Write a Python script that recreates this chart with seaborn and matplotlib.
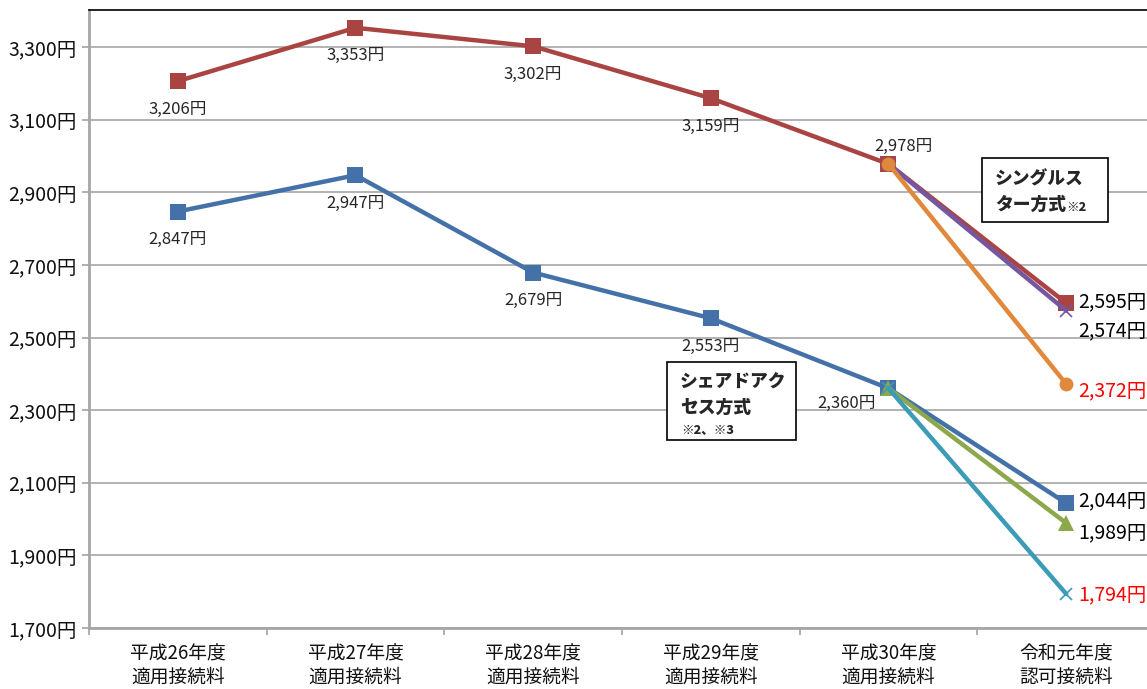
import matplotlib
matplotlib.use('Agg')
import matplotlib.pyplot as plt
import seaborn as sns
import pandas as pd
import numpy as np
from matplotlib.patches import Rectangle

sns.set_theme(style='white')
plt.rcParams['font.family'] = ['Liberation Sans Narrow', 'Noto Sans CJK JP', 'DejaVu Sans']

# ----------------- data -----------------
categories = ['平成26年度\n適用接続料', '平成27年度\n適用接続料', '平成28年度\n適用接続料',
              '平成29年度\n適用接続料', '平成30年度\n適用接続料', '令和元年度\n認可接続料']
single_star = [3206, 3353, 3302, 3159, 2978, 2595]
shared_access = [2847, 2947, 2679, 2553, 2360, 2044]
single_purple = [2978, 2574]
single_orange = [2978, 2372]
shared_green = [2360, 1989]
shared_teal = [2360, 1794]
y_ticks = [1700, 1900, 2100, 2300, 2500, 2700, 2900, 3100, 3300]

RED = '#A94442'
BLUE = '#4571A9'
PURPLE = '#7556A0'
ORANGE = '#E0883C'
GREEN = '#8CA84B'
TEAL = '#3C9BB6'
GRID = '#A6A6A6'
CJK = ['Noto Sans CJK JP', 'DejaVu Sans']

W, H = 1147, 689
fig = plt.figure(figsize=(W / 100, H / 100), dpi=100)
ax = fig.add_axes([89 / W, (H - 628) / H, (1155 - 89) / W, (628 - 10) / H])

x_all = list(range(len(categories)))
x_tail = x_all[-2:]


def draw(xs, ys, color, marker, ms, mew=0):
    df = pd.DataFrame({'x': xs, 'y': ys})
    sns.lineplot(data=df, x='x', y='y', ax=ax, color=color, linewidth=3.2,
                 marker=marker, markersize=ms, markeredgewidth=mew,
                 markeredgecolor=color, legend=False)


draw(x_all, single_star, RED, 's', 12)
draw(x_tail, single_purple, PURPLE, 'x', 9, 1.2)
draw(x_tail, single_orange, ORANGE, 'o', 10)
draw(x_all, shared_access, BLUE, 's', 12)
draw(x_tail, shared_green, GREEN, '^', 11)
draw(x_tail, shared_teal, TEAL, 'x', 9, 1.2)

ax.set_xlim(-0.5, 5.5)
ax.set_ylim(1700, 3402)
ax.set_xlabel('')
ax.set_ylabel('')

ax.set_yticks(y_ticks)
ax.set_yticklabels([f'{v:,}円' for v in y_ticks], fontsize=14, color='#111111')
ax.yaxis.grid(True, color=GRID, linewidth=1.2)
ax.xaxis.grid(False)

ax.set_xticks(np.arange(-0.5, 6, 1.0))
ax.set_xticklabels([])
ax.set_xticks(x_all, minor=True)
ax.set_xticklabels(categories, minor=True, fontsize=13.5, color='#111111', linespacing=1.15)
ax.tick_params(axis='x', which='major', length=5, color=GRID, direction='out', bottom=True)
ax.tick_params(axis='x', which='minor', length=0, pad=11)
ax.tick_params(axis='y', length=5, color=GRID, direction='out', left=True, pad=4)

for side in ['left', 'bottom']:
    ax.spines[side].set_color(GRID)
    ax.spines[side].set_linewidth(2)
ax.spines['top'].set_color('black')
ax.spines['top'].set_linewidth(1.2)
ax.spines['right'].set_visible(False)

# point labels below the markers
for i in range(4):
    ax.annotate(f'{single_star[i]:,}円', (i, single_star[i]), xytext=(0, -28),
                textcoords='offset pixels', ha='center', va='center', fontsize=12)
    ax.annotate(f'{shared_access[i]:,}円', (i, shared_access[i]), xytext=(0, -28),
                textcoords='offset pixels', ha='center', va='center', fontsize=12)
ax.annotate(f'{single_star[4]:,}円', (4, single_star[4]), xytext=(15, 18),
            textcoords='offset pixels', ha='center', va='center', fontsize=12)
ax.annotate(f'{shared_access[4]:,}円', (4, shared_access[4]), xytext=(-42, -15),
            textcoords='offset pixels', ha='center', va='center', fontsize=12)

# right-hand labels
end_labels = [
    (single_star[-1], 1, 'black'),
    (single_purple[-1], -20, 'black'),
    (single_orange[-1], -7, 'red'),
    (shared_access[-1], 2, 'black'),
    (shared_green[-1], -10, 'black'),
    (shared_teal[-1], -1, 'red'),
]
for val, dy, col in end_labels:
    ax.annotate(f'{val:,}円', (5, val), xytext=(12, dy), textcoords='offset pixels',
                ha='left', va='center', fontsize=14, color=col, annotation_clip=False)


# boxed captions
def px_box(x0, y0, x1, y1):
    fig.patches.append(Rectangle((x0 / W, 1 - y1 / H), (x1 - x0) / W, (y1 - y0) / H,
                                 transform=fig.transFigure, facecolor='white',
                                 edgecolor='black', linewidth=1.2, zorder=5))


def px_text(x, y, s, size, weight='black'):
    fig.text(x / W, 1 - y / H, s, fontsize=size, fontweight=weight,
             ha='left', va='center', zorder=6, family=CJK)


px_box(982, 158, 1108, 222)
px_text(995, 179, 'シングルス', 12.8)
px_text(995, 205, 'ター方式', 12.8)
px_text(1066, 207, '※2', 9)

px_box(667, 362, 796, 440)
px_text(680, 383, 'シェアドアク', 12.8)
px_text(680, 408, 'セス方式', 12.8)
px_text(681, 429, '※2、※3', 9)

fig.savefig('out.png', dpi=100)
